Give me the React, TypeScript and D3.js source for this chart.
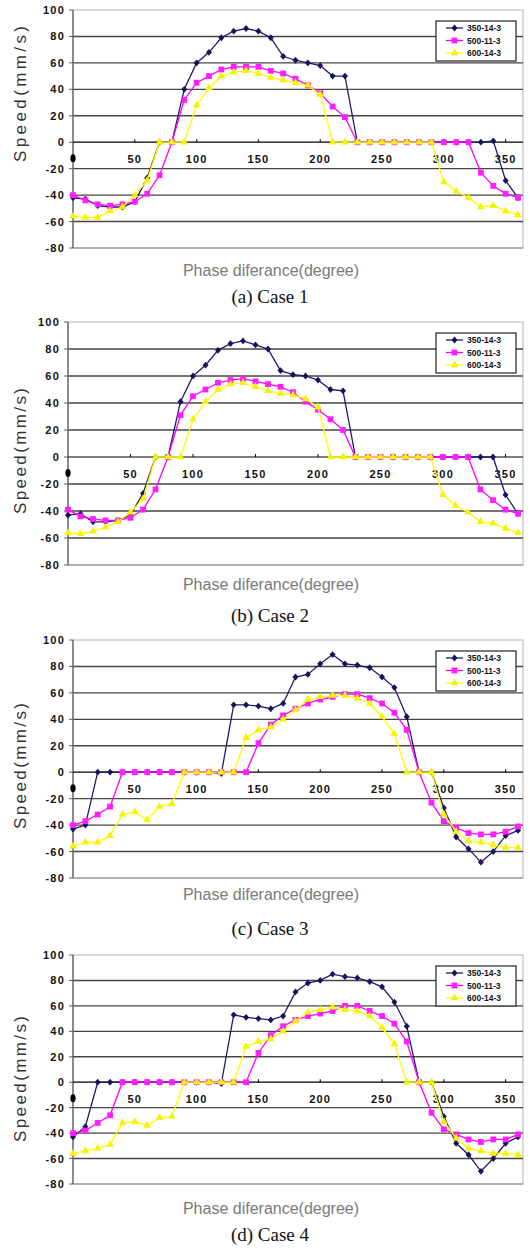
import * as d3 from 'd3'

// phase difference (degree), one point every 10 degrees
const phase = [0, 10, 20, 30, 40, 50, 60, 70, 80, 90, 100, 110, 120, 130, 140, 150, 160, 170, 180, 190, 200, 210, 220, 230, 240, 250, 260, 270, 280, 290, 300, 310, 320, 330, 340, 350, 360]
const yTicks = [100, 80, 60, 40, 20, 0, -20, -40, -60, -80]
const xTicks = [50, 100, 150, 200, 250, 300, 350]
const seriesNames = ['350-14-3', '500-11-3', '600-14-3']
const captions = ['(a) Case 1', '(b) Case 2', '(c) Case 3', '(d) Case 4']

const case1_350 = [-42, -43, -48, -49, -49, -45, -27, 0, 0, 40, 60, 68, 79, 84, 86, 84, 79, 65, 62, 60, 58, 50, 50, 0, 0, 0, 0, 0, 0, 0, 0, 0, 0, 0, 1, -29, -42]
const case1_500 = [-40, -44, -47, -48, -47, -45, -39, -25, 0, 32, 45, 50, 55, 57, 57, 57, 54, 52, 48, 43, 37, 27, 19, 0, 0, 0, 0, 0, 0, 0, 0, 0, 0, -23, -33, -39, -42]
const case1_600 = [-56, -57, -57, -52, -49, -40, -29, 0, 0, 0, 28, 41, 50, 53, 54, 52, 49, 47, 45, 43, 36, 0, 0, 0, 0, 0, 0, 0, 0, 0, -30, -37, -42, -49, -48, -52, -55]

const case2_350 = [-43, -42, -48, -48, -47, -43, -27, 0, 0, 41, 60, 68, 79, 84, 86, 83, 80, 64, 61, 60, 57, 50, 49, 0, 0, 0, 0, 0, 0, 0, 0, 0, 0, 0, 0, -28, -42]
const case2_500 = [-39, -44, -46, -47, -47, -45, -39, -24, 0, 31, 45, 50, 55, 57, 58, 56, 54, 52, 48, 41, 35, 28, 20, 0, 0, 0, 0, 0, 0, 0, 0, 0, 0, -24, -32, -39, -42]
const case2_600 = [-56, -57, -55, -52, -48, -41, -31, 0, 0, 0, 28, 41, 50, 54, 55, 52, 49, 47, 46, 43, 37, 0, 0, 0, 0, 0, 0, 0, 0, 0, -28, -36, -41, -48, -49, -53, -56]

const case3_350 = [-43, -40, 0, 0, 0, 0, 0, 0, 0, 0, 0, 0, -1, 51, 51, 50, 48, 52, 72, 74, 82, 89, 82, 81, 79, 72, 64, 42, 0, 0, -27, -49, -58, -68, -60, -48, -44]
const case3_500 = [-40, -37, -32, -26, 0, 0, 0, 0, 0, 0, 0, 0, 0, 0, 0, 22, 36, 43, 48, 52, 55, 57, 59, 59, 56, 52, 45, 32, 0, -23, -37, -42, -46, -47, -47, -45, -41]
const case3_600 = [-56, -53, -53, -48, -32, -30, -36, -26, -24, 0, 0, 0, 0, 0, 26, 32, 34, 40, 47, 55, 57, 58, 58, 56, 52, 42, 29, 0, 0, 0, -32, -45, -52, -53, -55, -57, -57]

const case4_350 = [-43, -35, 0, 0, 0, 0, 0, 0, 0, 0, 0, 0, -1, 53, 51, 50, 49, 52, 71, 78, 80, 85, 83, 82, 79, 75, 63, 44, 0, 0, -27, -48, -57, -70, -60, -48, -43]
const case4_500 = [-40, -38, -32, -26, 0, 0, 0, 0, 0, 0, 0, 0, 0, 0, 0, 23, 37, 44, 49, 52, 54, 56, 60, 60, 56, 52, 46, 32, 0, -24, -37, -41, -45, -47, -45, -45, -41]
const case4_600 = [-56, -54, -52, -49, -32, -31, -34, -28, -27, 0, 0, 0, 0, 0, 28, 32, 34, 40, 48, 55, 57, 59, 57, 56, 52, 43, 30, 0, 0, 0, -31, -44, -52, -54, -56, -56, -57]

const colors = ['#1c1c6c', '#ff00ff', '#ffff00']
const markerColors = ['#14145a', '#ff1eff', '#f4f400']

const layout = [
  { data: [case1_350, case1_500, case1_600], left: 73, top: 10, bottom: 248, labelMid: 94, labelLen: 136, titleY: 276, captionY: 303 },
  { data: [case2_350, case2_500, case2_600], left: 68, top: 322, bottom: 565, labelMid: 451, labelLen: 126, titleY: 590, captionY: 622 },
  { data: [case3_350, case3_500, case3_600], left: 73, top: 640, bottom: 878, labelMid: 766, labelLen: 126, titleY: 900, captionY: 935 },
  { data: [case4_350, case4_500, case4_600], left: 73, top: 955, bottom: 1184, labelMid: 1079, labelLen: 126, titleY: 1214, captionY: 1241 },
]

const RIGHT = 523
const diamond = 'M0,-3.4L3,0L0,3.4L-3,0Z'
const square = d3.symbol(d3.symbolSquare, 34)()
const triangle = d3.symbol(d3.symbolTriangle, 26)()
const markers = [diamond, square, triangle]

function Panel({ cfg, caption }) {
  const x = d3.scaleLinear().domain([0, 360]).range([cfg.left, 518])
  const y = d3.scaleLinear().domain([-80, 100]).range([cfg.bottom, cfg.top])
  const line = d3
    .line()
    .x((d, i) => x(phase[i]))
    .y((d) => y(d))
  const y0 = y(0)

  return (
    <g>
      <rect x={cfg.left} y={cfg.top} width={RIGHT - cfg.left} height={cfg.bottom - cfg.top} fill="#fff" stroke="#b4b4b4" strokeWidth={1} />
      {yTicks
        .filter((v) => v !== 0 && v !== 100 && v !== -80)
        .map((v) => (
          <line key={v} x1={cfg.left} x2={RIGHT} y1={y(v)} y2={y(v)} stroke="#454545" strokeWidth={1.4} />
        ))}
      <line x1={cfg.left} x2={RIGHT} y1={cfg.bottom} y2={cfg.bottom} stroke="#8a8a8a" strokeWidth={1.2} />
      <line x1={cfg.left} x2={cfg.left} y1={cfg.top} y2={cfg.bottom} stroke="#606060" strokeWidth={1.3} />
      {yTicks.map((v) => (
        <g key={v}>
          <line x1={cfg.left - 4} x2={cfg.left} y1={y(v)} y2={y(v)} stroke="#606060" />
          <text
            x={cfg.left - 8}
            y={y(v) + 4}
            textAnchor="end"
            fontFamily="Arial, 'Liberation Sans', sans-serif"
            fontWeight="bold"
            fontSize={11}
            letterSpacing={1.2}
            fill="#111"
          >
            {v}
          </text>
        </g>
      ))}
      <line x1={cfg.left} x2={RIGHT} y1={y0} y2={y0} stroke="#000" strokeWidth={1.2} />
      {xTicks.map((v) => (
        <g key={v}>
          <line x1={x(v)} x2={x(v)} y1={y0 - 3} y2={y0} stroke="#000" />
          <text
            x={x(v)}
            y={y0 + 21}
            textAnchor="middle"
            fontFamily="Arial, 'Liberation Sans', sans-serif"
            fontWeight="bold"
            fontSize={11}
            letterSpacing={1.2}
            fill="#111"
          >
            {v}
          </text>
        </g>
      ))}
      {/* the "0" category label prints as a black blob in the source */}
      <ellipse cx={x(0)} cy={y0 + 16} rx={2.6} ry={4} fill="#000" />

      {cfg.data.map((series, k) => (
        <g key={k}>
          <path d={line(series)} fill="none" stroke={colors[k]} strokeWidth={1.3} />
          {series.map((v, i) => (
            <path key={i} d={markers[k]} transform={`translate(${x(phase[i])},${y(v)})`} fill={markerColors[k]} />
          ))}
        </g>
      ))}

      <g>
        <rect x={436} y={cfg.top + 11} width={80} height={40} fill="#fff" stroke="#222" strokeWidth={1.2} />
        {seriesNames.map((name, k) => {
          const ly = cfg.top + 18 + k * 12.5
          return (
            <g key={name}>
              <line x1={446} x2={463} y1={ly} y2={ly} stroke={colors[k]} strokeWidth={1.3} />
              <path d={markers[k]} transform={`translate(454.5,${ly})`} fill={markerColors[k]} />
              <text x={467} y={ly + 3.2} fontFamily="Arial, 'Liberation Sans', sans-serif" fontWeight="bold" fontSize={8.5} fill="#111">
                {name}
              </text>
            </g>
          )
        })}
      </g>

      <text
        transform={`translate(26,${cfg.labelMid}) rotate(-90)`}
        textAnchor="middle"
        fontFamily="Arial, 'Liberation Sans', sans-serif"
        fontSize={17}
        textLength={cfg.labelLen}
        lengthAdjust="spacing"
        fill="#333"
      >
        Speed(mm/s)
      </text>
      <text x={271} y={cfg.titleY} textAnchor="middle" fontFamily="Arial, 'Liberation Sans', sans-serif" fontSize={16} fill="#7a7a7a">
        Phase diferance(degree)
      </text>
      <text x={270} y={cfg.captionY} textAnchor="middle" fontFamily="'Times New Roman', 'Liberation Serif', serif" fontSize={19} fill="#111">
        {caption}
      </text>
    </g>
  )
}

export default function App() {
  return (
    <svg width={530} height={1248} style={{ position: 'absolute', left: 0, top: 0, background: '#fff' }}>
      {layout.map((cfg, i) => (
        <Panel key={i} cfg={cfg} caption={captions[i]} />
      ))}
    </svg>
  )
}
